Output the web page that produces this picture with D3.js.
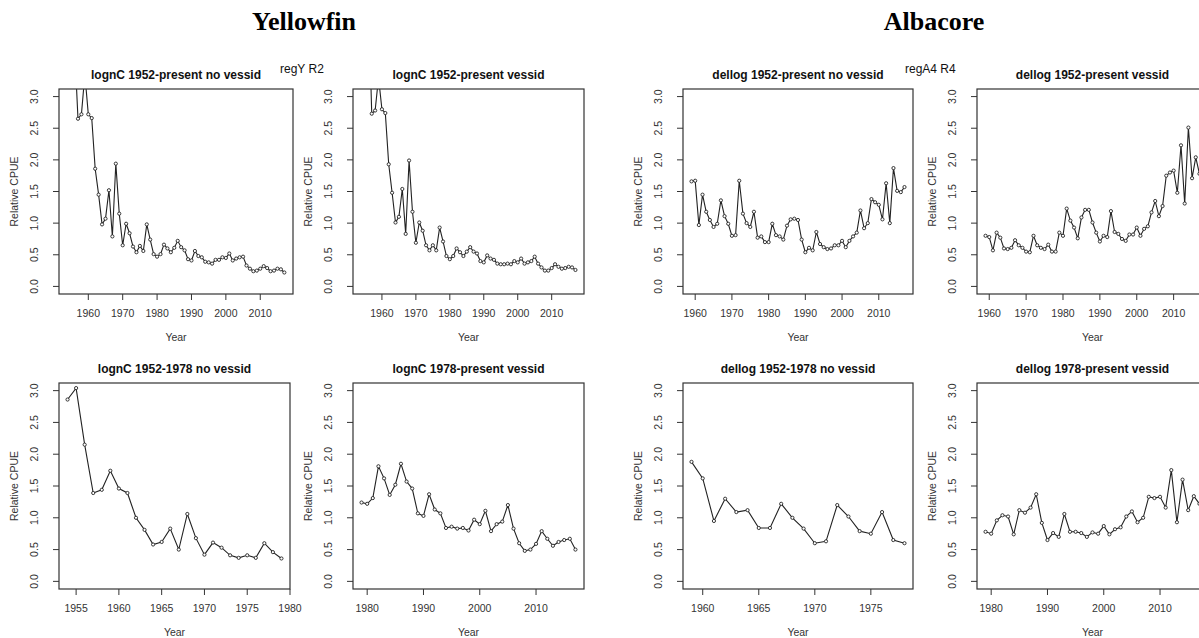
<!DOCTYPE html>
<html>
<head>
<meta charset="utf-8">
<script src="https://cdn.jsdelivr.net/npm/d3@7"></script>
<style>
  body { margin: 0; background: #fff; }
  svg { display: block; font-family: 'Liberation Sans', Arial, sans-serif; }
  .head { font-family: 'Liberation Serif', 'Times New Roman', serif; font-weight: bold; font-size: 26px; fill: #000; }
  .ptitle { font-weight: bold; font-size: 12px; fill: #111; }
  .tick-lab { font-size: 10.5px; fill: #333; }
  .ax-lab { font-size: 10.5px; fill: #333; }
</style>
</head>
<body>
<svg id="chart" width="1199" height="638"></svg>
<script>
// year axes
const yearsAll = d3.range(1954, 2018);       // 1954-2017
const yearsDel = d3.range(1959, 2018);       // 1959-2017
const yearsEarlyY = d3.range(1954, 1980);    // 1954-1979
const yearsEarlyA = d3.range(1959, 1979);    // 1959-1978
const yearsLate = d3.range(1979, 2018);      // 1979-2017

// Yellowfin, lognC 1952-present no vessid (first values run off the top)
const yftNoVess = [4.3, 4.1, 3.8, 2.65, 2.72, 3.35, 2.72, 2.66, 1.86, 1.45,
  0.98, 1.07, 1.52, 0.79, 1.94, 1.15, 0.65, 0.99, 0.84, 0.63,
  0.54, 0.64, 0.56, 0.98, 0.74, 0.51, 0.47, 0.51, 0.66, 0.60,
  0.54, 0.61, 0.72, 0.62, 0.57, 0.43, 0.41, 0.56, 0.48, 0.46,
  0.39, 0.38, 0.36, 0.42, 0.42, 0.46, 0.45, 0.52, 0.41, 0.44,
  0.46, 0.47, 0.33, 0.28, 0.24, 0.25, 0.28, 0.32, 0.29, 0.24,
  0.25, 0.28, 0.27, 0.22];

// Yellowfin, lognC 1952-present vessid
const yftVess = [5.2, 5.0, 4.6, 2.73, 2.78, 3.3, 2.80, 2.74, 1.93, 1.48,
  1.01, 1.10, 1.54, 0.83, 1.99, 1.18, 0.69, 1.01, 0.88, 0.65,
  0.57, 0.65, 0.57, 0.93, 0.71, 0.48, 0.43, 0.48, 0.60, 0.54,
  0.48, 0.55, 0.62, 0.55, 0.52, 0.40, 0.38, 0.49, 0.44, 0.42,
  0.36, 0.35, 0.35, 0.36, 0.35, 0.40, 0.38, 0.44, 0.36, 0.38,
  0.40, 0.47, 0.36, 0.30, 0.25, 0.25, 0.29, 0.35, 0.31, 0.28,
  0.29, 0.31, 0.30, 0.26];

// Yellowfin, lognC 1952-1978 no vessid
const yftEarly = [2.86, 3.04, 2.15, 1.39, 1.44, 1.74, 1.46, 1.39, 1.00, 0.81,
  0.58, 0.62, 0.83, 0.50, 1.06, 0.68, 0.42, 0.61, 0.53, 0.41,
  0.37, 0.41, 0.37, 0.60, 0.46, 0.36];

// Yellowfin, lognC 1978-present vessid
const yftLate = [1.24, 1.22, 1.31, 1.81, 1.62, 1.36, 1.52, 1.85, 1.57, 1.46,
  1.07, 1.03, 1.37, 1.13, 1.07, 0.84, 0.86, 0.83, 0.84, 0.80,
  0.97, 0.90, 1.11, 0.79, 0.90, 0.94, 1.20, 0.83, 0.60, 0.48,
  0.50, 0.59, 0.79, 0.67, 0.56, 0.62, 0.65, 0.67, 0.50];

// Albacore, dellog 1952-present no vessid
const albNoVess = [1.66, 1.67, 0.97, 1.45, 1.18, 1.05, 0.94, 0.99, 1.36, 1.11,
  0.99, 0.80, 0.81, 1.67, 1.15, 1.00, 0.94, 1.18, 0.77, 0.79,
  0.70, 0.70, 0.99, 0.81, 0.79, 0.74, 0.96, 1.06, 1.07, 1.05,
  0.74, 0.54, 0.61, 0.57, 0.86, 0.67, 0.62, 0.59, 0.60, 0.65,
  0.65, 0.72, 0.62, 0.72, 0.79, 0.85, 1.20, 0.92, 1.00, 1.38,
  1.33, 1.29, 1.06, 1.63, 1.00, 1.87, 1.51, 1.49, 1.57];

// Albacore, dellog 1952-present vessid
const albVess = [0.80, 0.78, 0.57, 0.85, 0.77, 0.60, 0.59, 0.61, 0.73, 0.65,
  0.61, 0.55, 0.54, 0.80, 0.65, 0.61, 0.59, 0.66, 0.55, 0.55,
  0.85, 0.80, 1.23, 1.04, 0.93, 0.76, 1.09, 1.21, 1.21, 1.01,
  0.85, 0.71, 0.80, 0.78, 1.19, 0.86, 0.83, 0.75, 0.72, 0.82,
  0.82, 0.93, 0.80, 0.91, 0.95, 1.17, 1.35, 1.11, 1.27, 1.75,
  1.80, 1.83, 1.48, 2.23, 1.31, 2.51, 1.71, 2.04, 1.78];

// Albacore, dellog 1952-1978 no vessid
const albEarly = [1.88, 1.62, 0.95, 1.30, 1.09, 1.12, 0.84, 0.84, 1.22, 1.00,
  0.83, 0.60, 0.63, 1.20, 1.02, 0.79, 0.75, 1.09, 0.65, 0.60];

// Albacore, dellog 1978-present vessid
const albLate = [0.78, 0.75, 0.96, 1.04, 1.02, 0.74, 1.12, 1.08, 1.16, 1.37,
  0.92, 0.65, 0.76, 0.70, 1.06, 0.78, 0.78, 0.76, 0.70, 0.77,
  0.75, 0.87, 0.74, 0.82, 0.85, 1.02, 1.10, 0.93, 1.00, 1.33,
  1.31, 1.33, 1.16, 1.75, 0.93, 1.60, 1.12, 1.34, 1.22];

const yTicks = [0, 0.5, 1, 1.5, 2, 2.5, 3];
const yTickLabels = ['0.0', '0.5', '1.0', '1.5', '2.0', '2.5', '3.0'];
const ticksDecade = [1960, 1970, 1980, 1990, 2000, 2010];
const ticksEarlyY = [1955, 1960, 1965, 1970, 1975, 1980];
const ticksEarlyA = [1960, 1965, 1970, 1975];
const ticksLate = [1980, 1990, 2000, 2010];

const panelTitles = [
  'lognC 1952-present no vessid', 'lognC 1952-present vessid',
  'dellog 1952-present no vessid', 'dellog 1952-present vessid',
  'lognC 1952-1978 no vessid', 'lognC 1978-present vessid',
  'dellog 1952-1978 no vessid', 'dellog 1978-present vessid'
];

// R-style axis limits: data range extended by 4%
const ext = (a, b) => [a - (b - a) * 0.04, b + (b - a) * 0.04];

const panels = [
  { years: yearsAll, vals: yftNoVess, xdom: ext(1954, 2017), ticks: ticksDecade, x0: 59, x1: 293, row: 0 },
  { years: yearsAll, vals: yftVess, xdom: ext(1954, 2017), ticks: ticksDecade, x0: 353, x1: 584, row: 0 },
  { years: yearsDel, vals: albNoVess, xdom: ext(1959, 2017), ticks: ticksDecade, x0: 683, x1: 913, row: 0 },
  { years: yearsDel, vals: albVess, xdom: ext(1959, 2017), ticks: ticksDecade, x0: 977, x1: 1208, row: 0 },
  { years: yearsEarlyY, vals: yftEarly, xdom: ext(1954, 1979), ticks: ticksEarlyY, x0: 59, x1: 290, row: 1 },
  { years: yearsLate, vals: yftLate, xdom: ext(1979, 2017), ticks: ticksLate, x0: 353, x1: 584, row: 1 },
  { years: yearsEarlyA, vals: albEarly, xdom: ext(1959, 1978), ticks: ticksEarlyA, x0: 683, x1: 913, row: 1 },
  { years: yearsLate, vals: albLate, xdom: ext(1979, 2017), ticks: ticksLate, x0: 977, x1: 1208, row: 1 }
];

const rows = [
  { top: 89, bottom: 294 },
  { top: 383, bottom: 589 }
];

const svg = d3.select('#chart');

// species headings
svg.append('text').attr('class', 'head').attr('x', 304).attr('y', 30)
  .attr('text-anchor', 'middle').text('Yellowfin');
svg.append('text').attr('class', 'head').attr('x', 934).attr('y', 30)
  .attr('text-anchor', 'middle').text('Albacore');

// region labels
svg.append('text').attr('x', 280).attr('y', 73).attr('font-size', 12).attr('fill', '#111').text('regY R2');
svg.append('text').attr('x', 905).attr('y', 73).attr('font-size', 12).attr('fill', '#111').text('regA4 R4');

const defs = svg.append('defs');

panels.forEach((p, i) => {
  const r = rows[p.row];
  const x = d3.scaleLinear().domain(p.xdom).range([p.x0, p.x1]);
  const y = d3.scaleLinear().domain(ext(0, 3)).range([r.bottom, r.top]);
  const g = svg.append('g');

  defs.append('clipPath').attr('id', `clip${i}`)
    .append('rect')
    .attr('x', p.x0).attr('y', r.top)
    .attr('width', p.x1 - p.x0).attr('height', r.bottom - r.top);

  // title
  g.append('text').attr('class', 'ptitle')
    .attr('x', (p.x0 + p.x1) / 2).attr('y', r.top - 10)
    .attr('text-anchor', 'middle').text(panelTitles[i]);

  // y axis: ticks out from the box + rotated labels
  const yAxis = g.append('g');
  yTicks.forEach((t, k) => {
    yAxis.append('line')
      .attr('x1', p.x0).attr('x2', p.x0 - 6)
      .attr('y1', y(t)).attr('y2', y(t))
      .attr('stroke', '#333');
    yAxis.append('text').attr('class', 'tick-lab')
      .attr('transform', `translate(${p.x0 - 25},${y(t)}) rotate(-90)`)
      .attr('text-anchor', 'middle').attr('dy', '0.35em')
      .text(yTickLabels[k]);
  });

  // x axis
  const xAxis = g.append('g');
  p.ticks.forEach((t) => {
    xAxis.append('line')
      .attr('x1', x(t)).attr('x2', x(t))
      .attr('y1', r.bottom).attr('y2', r.bottom + 6)
      .attr('stroke', '#333');
    xAxis.append('text').attr('class', 'tick-lab')
      .attr('x', x(t)).attr('y', r.bottom + 23)
      .attr('text-anchor', 'middle').text(t);
  });

  // axis titles
  g.append('text').attr('class', 'ax-lab')
    .attr('transform', `translate(${p.x0 - 45},${(r.top + r.bottom) / 2}) rotate(-90)`)
    .attr('text-anchor', 'middle').attr('dy', '0.35em')
    .text('Relative CPUE');
  g.append('text').attr('class', 'ax-lab')
    .attr('x', (p.x0 + p.x1) / 2).attr('y', r.bottom + 47)
    .attr('text-anchor', 'middle').text('Year');

  // series
  const pts = p.years.map((yr, k) => ({ yr, v: p.vals[k] }));
  const plot = g.append('g').attr('clip-path', `url(#clip${i})`);
  plot.append('path').datum(pts)
    .attr('fill', 'none').attr('stroke', '#222').attr('stroke-width', 1.1)
    .attr('d', d3.line().x((d) => x(d.yr)).y((d) => y(d.v)));
  plot.selectAll('circle').data(pts).enter().append('circle')
    .attr('cx', (d) => x(d.yr)).attr('cy', (d) => y(d.v)).attr('r', 1.6)
    .attr('fill', '#fff').attr('stroke', '#222').attr('stroke-width', 0.9);

  // box
  g.append('rect')
    .attr('x', p.x0).attr('y', r.top)
    .attr('width', p.x1 - p.x0).attr('height', r.bottom - r.top)
    .attr('fill', 'none').attr('stroke', '#333').attr('stroke-width', 1.2);
});
</script>
</body>
</html>
